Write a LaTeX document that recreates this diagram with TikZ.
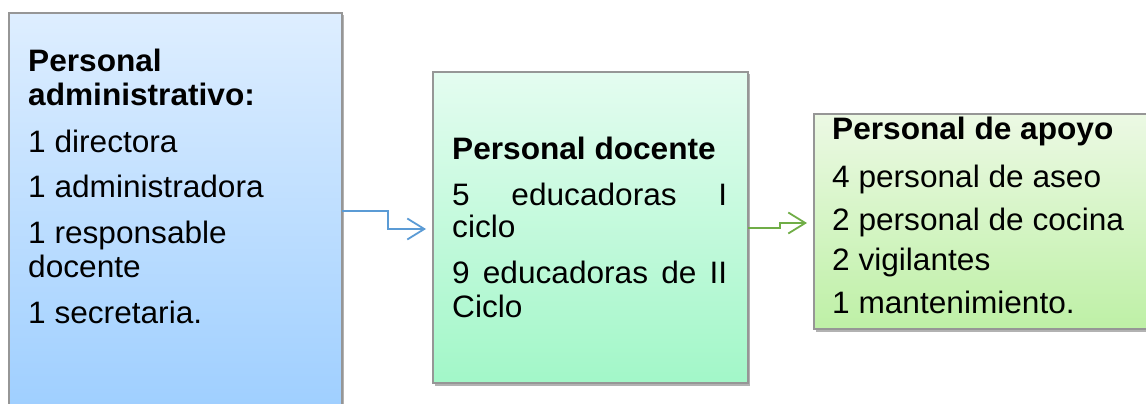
\documentclass[tikz,border=0pt]{standalone}
\usepackage{fontspec}
\setmainfont{Liberation Sans}[FakeStretch=1.02]
\usetikzlibrary{arrows.meta,shadows}
\definecolor{bAtop}{RGB}{222,238,255}
\definecolor{bAbot}{RGB}{155,205,255}
\definecolor{bBtop}{RGB}{228,252,240}
\definecolor{bBbot}{RGB}{162,247,200}
\definecolor{bCtop}{RGB}{236,249,228}
\definecolor{bCbot}{RGB}{190,240,166}
\definecolor{edge}{RGB}{150,150,150}
\definecolor{arrA}{RGB}{91,155,213}
\definecolor{arrB}{RGB}{112,173,71}
\tikzset{
  boxshape/.style={draw=edge, line width=1.2pt, rectangle, inner sep=0pt, outer sep=0pt, anchor=north west,
    drop shadow={shadow xshift=1.5pt, shadow yshift=-2.5pt, fill=black, opacity=0.3}},
  txt/.style={anchor=base west, inner sep=0pt, font=\fontsize{31}{34}\selectfont},
  btxt/.style={txt, font=\fontsize{31}{34}\selectfont\bfseries},
  conn/.style={line width=1.6pt, -{Straight Barb[length=17pt,width=21pt,line width=1.8pt]}}
}
\begin{document}
\begin{tikzpicture}[x=1pt,y=-1pt]
\useasboundingbox (0,0) rectangle (1146,404);
% boxes
\node[boxshape, top color=bAtop, bottom color=bAbot, minimum width=333pt, minimum height=420pt] (b1) at (9,13) {};
\node[boxshape, top color=bBtop, bottom color=bBbot, minimum width=315pt, minimum height=311pt] (b2) at (433,72) {};
\node[boxshape, top color=bCtop, bottom color=bCbot, minimum width=350pt, minimum height=215pt] (b3) at (814,114) {};
% box 1 text
\node[btxt] (t1a) at (28,72) {Personal};
\node[btxt] (t1b) at (28,106) {administrativo:};
\node[txt] (t1c) at (28,152) {1 directora};
\node[txt] (t1d) at (28,197) {1 administradora};
\node[txt] (t1e) at (28,243) {1 responsable};
\node[txt] (t1f) at (28,277) {docente};
\node[txt] (t1g) at (28,323) {1 secretaria.};
% box 2 text
\node[btxt] (t2a) at (452,159) {Personal docente};
\node[txt] (t2b) at (452,205) {\makebox[275pt][s]{5 educadoras I}};
\node[txt] (t2c) at (452,237) {ciclo};
\node[txt] (t2d) at (452,283) {\makebox[275pt][s]{9 educadoras de II}};
\node[txt] (t2e) at (452,317) {Ciclo};
% box 3 text
\node[btxt] (t3a) at (832,139) {Personal de apoyo};
\node[txt] (t3b) at (832,187) {4 personal de aseo};
\node[txt] (t3c) at (832,230) {2 personal de cocina};
\node[txt] (t3d) at (832,270) {2 vigilantes};
\node[txt] (t3e) at (832,313) {1 mantenimiento.};
% connectors
\coordinate (a1s) at (b1.north east |- 0,211);
\coordinate (a1e) at ([xshift=-7pt]b2.north west |- 0,229);
\draw[conn, arrA] (a1s) -- (388,211) -- (388,229) -- (a1e);
\coordinate (a2s) at (b2.north east |- 0,228);
\coordinate (a2e) at ([xshift=-7pt]b3.north west |- 0,223);
\draw[conn, arrB] (a2s) -- (780,228) -- (780,223) -- (a2e);
\end{tikzpicture}
\end{document}
